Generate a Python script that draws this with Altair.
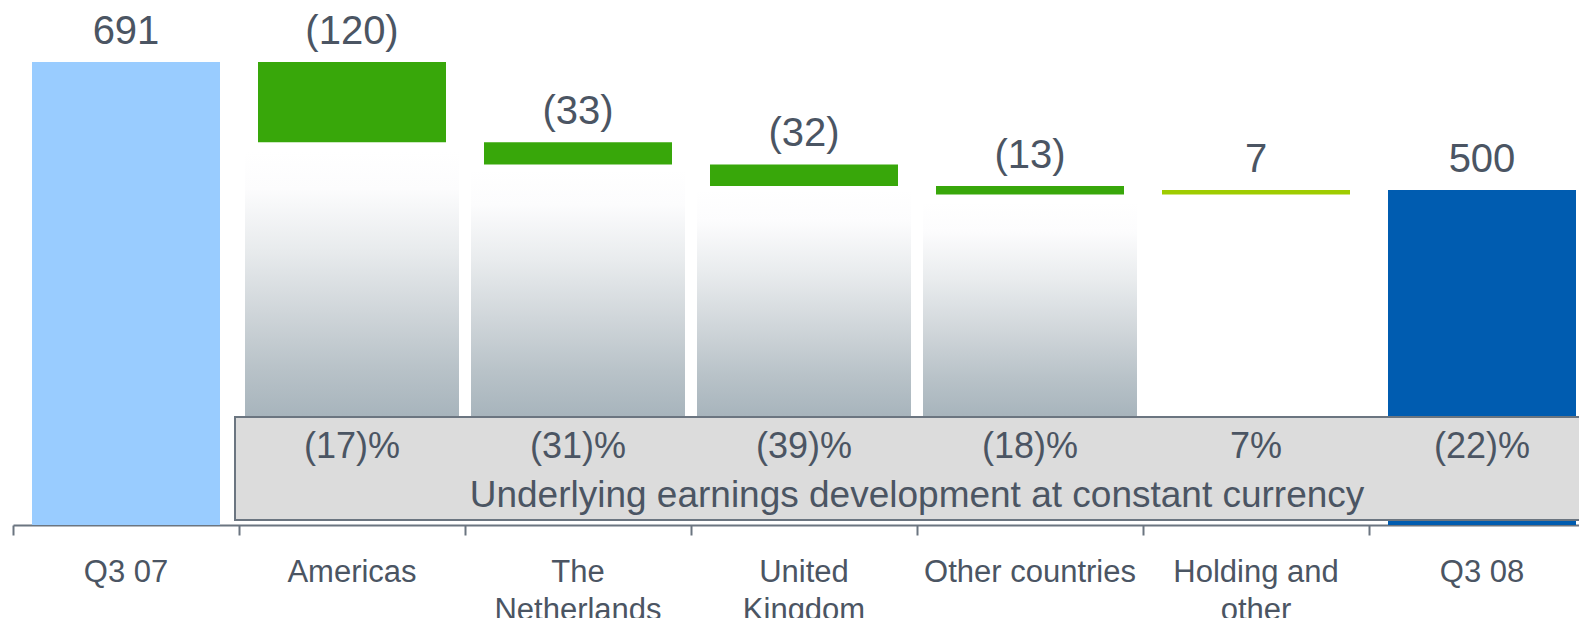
import altair as alt
import pandas as pd

# ---- data -------------------------------------------------------------
categories = ["Q3 07", "Americas", "The|Netherlands", "United|Kingdom",
              "Other countries", "Holding and|other", "Q3 08"]
changes = [691, -120, -33, -32, -13, 7, 500]
value_labels = ["691", "(120)", "(33)", "(32)", "(13)", "7", "500"]
bar_colors = ["#99ccff", "#38a70a", "#38a70a", "#38a70a", "#38a70a", "#9fcc00", "#005cb0"]

pct_categories = categories[1:]
pct_labels = ["(17)%", "(31)%", "(39)%", "(18)%", "7%", "(22)%"]

shade_categories = categories[1:5]
shade_tops = [557, 530, 500, 482]

caption = "Underlying earnings development at constant currency"

# ---- waterfall table ----------------------------------------------------
rows = []
running = 0
for i, (c, v, lab) in enumerate(zip(categories, changes, value_labels)):
    if i == 0 or i == len(categories) - 1:
        start, end = 0, v
        running = v
    else:
        start, end = running, running + v
        running = end
    rows.append({"cat": c, "lo": min(start, end), "hi": max(start, end), "label": lab})
bars_df = pd.DataFrame(rows)
pct_df = pd.DataFrame({"cat": pct_categories, "pct": pct_labels})
shade_df = pd.DataFrame({"cat": shade_categories, "top": shade_tops})
box_df = pd.DataFrame({"c1": [categories[1]], "c2": [categories[-1]]})
cap_df = pd.DataFrame({"cat": [categories[4]], "text": [caption]})

TEXT = "#4b5563"
LINE = "#6b7580"
FONT = "Liberation Sans"
BOX_TOP = 161
BOX_BOTTOM = 7.5

xscale = alt.Scale(domain=categories, range=[0, 1582], paddingInner=0, paddingOuter=0)
xaxis = alt.Axis(title=None, labelExpr="split(datum.label, '|')", labelFontSize=31,
                 labelColor=TEXT, labelFont=FONT, labelPadding=22, labelLineHeight=38,
                 labelAngle=0, labelLimit=0, labelOverlap=False, tickSize=10,
                 tickColor=LINE, tickWidth=2, domainColor=LINE, domainWidth=2,
                 bandPosition=0, grid=False)
yscale = alt.Scale(domain=[0, 764], nice=False, zero=True)

X = alt.X("cat:N", scale=xscale, axis=xaxis, sort=categories)

gradient = alt.LinearGradient(
    gradient="linear", x1=0, x2=0, y1=0, y2=1,
    stops=[alt.GradientStop(color="#ffffff", offset=0),
           alt.GradientStop(color="#fcfcfd", offset=0.14),
           alt.GradientStop(color="#e8ebed", offset=0.37),
           alt.GradientStop(color="#d0d6da", offset=0.6),
           alt.GradientStop(color="#b8c2c8", offset=0.82),
           alt.GradientStop(color="#a7b4bc", offset=1)])

shade = alt.Chart(shade_df).mark_bar(size=214, color=gradient).encode(
    x=X, y=alt.Y("top:Q", scale=yscale, axis=None), y2=alt.Y2(datum=BOX_TOP))

bars = alt.Chart(bars_df).mark_bar(size=188).encode(
    x=X,
    y=alt.Y("lo:Q", scale=yscale, axis=None),
    y2="hi:Q",
    color=alt.Color("cat:N", scale=alt.Scale(domain=categories, range=bar_colors), legend=None))

vlabels = alt.Chart(bars_df).mark_text(dy=-18, baseline="alphabetic", fontSize=40,
                                       font=FONT, color=TEXT).encode(
    x=X, y=alt.Y("hi:Q", scale=yscale, axis=None), text="label:N")

box = alt.Chart(box_df).mark_rect(fill="#dcdcdc", stroke=LINE, strokeWidth=2, xOffset=-4).encode(
    x=alt.X("c1:N", scale=xscale, axis=xaxis, bandPosition=0),
    x2=alt.X2(field="c2", bandPosition=1),
    y=alt.Y(datum=BOX_TOP, scale=yscale, axis=None),
    y2=alt.Y2(datum=BOX_BOTTOM))

plabels = alt.Chart(pct_df).mark_text(baseline="alphabetic", fontSize=36, font=FONT,
                                      color=TEXT).encode(
    x=X, y=alt.Y(datum=100, scale=yscale, axis=None), text="pct:N")

cap = alt.Chart(cap_df).mark_text(baseline="alphabetic", fontSize=37, font=FONT,
                                  color=TEXT).encode(
    x=alt.X("cat:N", scale=xscale, axis=xaxis, bandPosition=0),
    y=alt.Y(datum=27, scale=yscale, axis=None), text="text:N")

chart = alt.layer(bars, shade, box, plabels, cap, vlabels).properties(
    width=1566, height=512,
    autosize=alt.AutoSizeParams(type="none"),
    padding={"left": 5, "top": 5, "right": 0, "bottom": 93},
    background="white",
).configure_view(stroke=None)

chart.save("out.html", embed_options={"renderer": "svg", "actions": False})
